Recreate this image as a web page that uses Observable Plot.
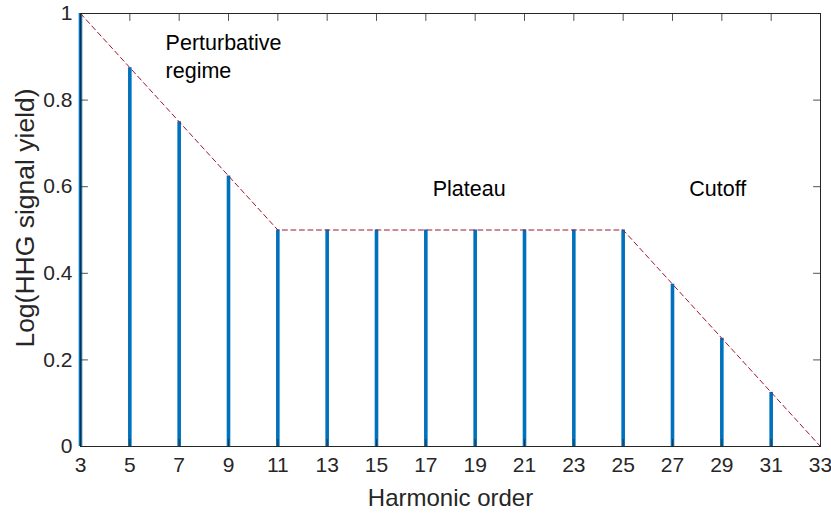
<!DOCTYPE html>
<html>
<head>
<meta charset="utf-8">
<script src="https://cdn.jsdelivr.net/npm/d3@7"></script>
<script src="https://cdn.jsdelivr.net/npm/@observablehq/plot@0.6"></script>
<style>
  html, body { margin: 0; padding: 0; background: #fff; }
  svg { font-family: "Liberation Sans", Arial, sans-serif; }
</style>
</head>
<body>
<div id="chart"></div>
<script>
// Data
const harmonics = [3, 5, 7, 9, 11, 13, 15, 17, 19, 21, 23, 25, 27, 29, 31, 33];
const yields    = [1, 0.875, 0.75, 0.625, 0.5, 0.5, 0.5, 0.5, 0.5, 0.5, 0.5, 0.5, 0.375, 0.25, 0.125, 0];
const envelopeX = [3, 11, 25, 33];
const envelopeY = [1, 0.5, 0.5, 0];
const xTicks = [3, 5, 7, 9, 11, 13, 15, 17, 19, 21, 23, 25, 27, 29, 31, 33];
const yTicks = [0, 0.2, 0.4, 0.6, 0.8, 1];
const annotations = [
  {x: 6.45, y: 0.905, text: "Perturbative\nregime"},
  {x: 17.28, y: 0.60, text: "Plateau"},
  {x: 27.68, y: 0.60, text: "Cutoff"}
];

const bars = harmonics.map((h, i) => ({h, v: yields[i]}));
const env = envelopeX.map((x, i) => ({x, y: envelopeY[i]}));

const axisColor = "#262626";
const tickShape = {draw(context, l) { context.moveTo(0, 0); context.lineTo(0, -l); }};
const tickOpts = {length: 7, anchor: "start", shape: tickShape, stroke: axisColor, strokeWidth: 0.8};

const chart = Plot.plot({
  width: 831,
  height: 514,
  marginLeft: 80,
  marginRight: 11,
  marginTop: 13,
  marginBottom: 68,
  style: {fontFamily: "'Liberation Sans', Arial, sans-serif", background: "#fff"},
  x: {domain: [3, 33], axis: null},
  y: {domain: [0, 1], axis: null},
  marks: [
    Plot.ruleX(bars, {x: "h", y1: 0, y2: "v", stroke: "#0072BD", strokeWidth: 3.6}),
    Plot.line(env, {x: "x", y: "y", stroke: "#A2142F", strokeWidth: 1, strokeDasharray: "5,3.5"}),
    Plot.frame({stroke: axisColor, strokeWidth: 1}),
    // inward ticks
    Plot.vector(xTicks, {x: d => d, y: 0, rotate: 0, ...tickOpts}),
    Plot.vector(xTicks, {x: d => d, y: 1, rotate: 180, ...tickOpts}),
    Plot.vector(yTicks, {x: 3, y: d => d, rotate: 90, ...tickOpts}),
    Plot.vector(yTicks, {x: 33, y: d => d, rotate: -90, ...tickOpts}),
    // tick labels
    Plot.text(xTicks, {x: d => d, y: 0, dy: 11, lineAnchor: "top", fontSize: 21, fill: axisColor, text: d => String(d)}),
    Plot.text(yTicks, {x: 3, y: d => d, dx: -8, textAnchor: "end", fontSize: 21, fill: axisColor, text: d => String(d)}),
    Plot.text(["Harmonic order"], {x: 18, y: 0, dy: 42, fontSize: 24, fill: axisColor, lineAnchor: "top", text: d => d}),
    Plot.text(["Log(HHG signal yield)"], {x: 3, y: 0.5, dx: -55, dy: -12, rotate: -90, fontSize: 26.5, fill: axisColor, text: d => d}),
    Plot.text(annotations, {x: "x", y: "y", text: "text", textAnchor: "start", fontSize: 21.5, fill: "#000", lineHeight: 1.3})
  ]
});
document.getElementById("chart").appendChild(chart);
</script>
</body>
</html>
